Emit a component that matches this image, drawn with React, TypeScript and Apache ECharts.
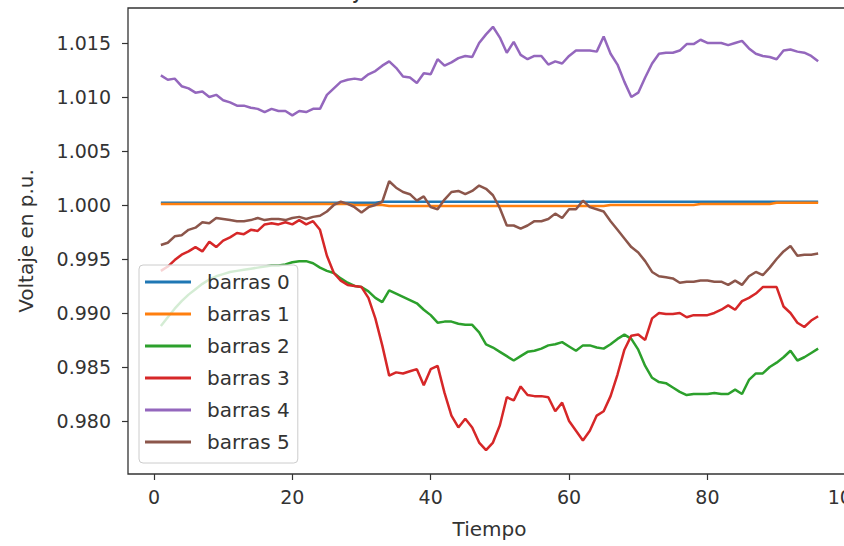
import React, { useEffect, useRef } from "react";
import * as echarts from "echarts";

const seriesNames = ["barras 0", "barras 1", "barras 2", "barras 3", "barras 4", "barras 5"];
const colors = ["#1f77b4", "#ff7f0e", "#2ca02c", "#d62728", "#9467bd", "#8c564b"];
const xTicks = [0, 20, 40, 60, 80, 100];
const yTicks = [0.98, 0.985, 0.99, 0.995, 1.0, 1.005, 1.01, 1.015];

const barras0 = [
  1.0002, 1.0002, 1.0002, 1.0002, 1.0002, 1.0002, 1.0002, 1.0002, 1.0002, 1.0002,
  1.0002, 1.0002, 1.0002, 1.0002, 1.0002, 1.0002, 1.0002, 1.0002, 1.0002, 1.0002,
  1.0002, 1.0002, 1.0002, 1.0002, 1.0002, 1.0002, 1.0002, 1.0002, 1.0002, 1.0002,
  1.0002, 1.0002, 1.0003, 1.0003, 1.0003, 1.0003, 1.0003, 1.0003, 1.0003, 1.0003,
  1.0003, 1.0003, 1.0003, 1.0003, 1.0003, 1.0003, 1.0003, 1.0003, 1.0003, 1.0003,
  1.0003, 1.0003, 1.0003, 1.0003, 1.0003, 1.0003, 1.0003, 1.0003, 1.0003, 1.0003,
  1.0003, 1.0003, 1.0003, 1.0003, 1.0003, 1.0003, 1.0003, 1.0003, 1.0003, 1.0003,
  1.0003, 1.0003, 1.0003, 1.0003, 1.0003, 1.0003, 1.0003, 1.0003, 1.0003, 1.0003,
  1.0003, 1.0003, 1.0003, 1.0003, 1.0003, 1.0003, 1.0003, 1.0003, 1.0003, 1.0003,
  1.0003, 1.0003, 1.0003, 1.0003, 1.0003, 1.0003,
];

const barras1 = [
  1.0001, 1.0001, 1.0001, 1.0001, 1.0001, 1.0001, 1.0001, 1.0001, 1.0001, 1.0001,
  1.0001, 1.0001, 1.0001, 1.0001, 1.0001, 1.0001, 1.0001, 1.0001, 1.0001, 1.0001,
  1.0001, 1.0001, 1.0001, 1.0001, 1.0001, 1.0001, 1.0001, 1.0001, 1.0000, 1.0000,
  1.0000, 1.0000, 1.0000, 0.9999, 0.9999, 0.9999, 0.9999, 0.9999, 0.9999, 0.9999,
  0.9999, 0.9999, 0.9999, 0.9999, 0.9999, 0.9999, 0.9999, 0.9999, 0.9999, 0.9999,
  0.9999, 0.9999, 0.9999, 0.9999, 0.9999, 0.9999, 0.9999, 0.9999, 0.9999, 0.9999,
  0.9999, 0.9999, 0.9999, 0.9999, 0.9999, 1.0000, 1.0000, 1.0000, 1.0000, 1.0000,
  1.0000, 1.0000, 1.0000, 1.0000, 1.0000, 1.0000, 1.0000, 1.0000, 1.0001, 1.0001,
  1.0001, 1.0001, 1.0001, 1.0001, 1.0001, 1.0001, 1.0001, 1.0001, 1.0001, 1.0002,
  1.0002, 1.0002, 1.0002, 1.0002, 1.0002, 1.0002,
];

const barras2 = [
  0.9888, 0.9896, 0.9904, 0.9911, 0.9917, 0.9922, 0.9927, 0.9931, 0.9934, 0.9936,
  0.9938, 0.9939, 0.994, 0.9941, 0.9942, 0.9943, 0.9944, 0.9944, 0.9945, 0.9947,
  0.9948, 0.9948, 0.9946, 0.9942, 0.9939, 0.9937, 0.9932, 0.9928, 0.9925, 0.9924,
  0.992, 0.9914, 0.991, 0.9921, 0.9918, 0.9915, 0.9912, 0.9909, 0.9903, 0.9898,
  0.9891, 0.9892, 0.9892, 0.989, 0.9889, 0.9889, 0.9882, 0.9871, 0.9868, 0.9864,
  0.986, 0.9856, 0.986, 0.9864, 0.9865, 0.9867, 0.987, 0.9871, 0.9873, 0.9869,
  0.9865, 0.987, 0.987, 0.9868, 0.9867, 0.9871, 0.9876, 0.988, 0.9876, 0.9866,
  0.9851, 0.984, 0.9836, 0.9835, 0.9831, 0.9827, 0.9824, 0.9825, 0.9825, 0.9825,
  0.9826, 0.9825, 0.9825, 0.9829, 0.9825, 0.9838, 0.9844, 0.9844, 0.985, 0.9854,
  0.9859, 0.9865, 0.9856, 0.9859, 0.9863, 0.9867,
];

const barras3 = [
  0.9939, 0.9943, 0.9949, 0.9954, 0.9957, 0.9961, 0.9957, 0.9966, 0.9961, 0.9967,
  0.997, 0.9974, 0.9973, 0.9977, 0.9976, 0.9982, 0.9983, 0.9982, 0.9984, 0.9982,
  0.9986, 0.9982, 0.9985, 0.9977, 0.9953, 0.9937, 0.993, 0.9926, 0.9925, 0.9924,
  0.9914, 0.9895, 0.987, 0.9842, 0.9845, 0.9844, 0.9846, 0.9848, 0.9833, 0.9848,
  0.9851, 0.9826, 0.9805, 0.9794, 0.9802, 0.9794, 0.978, 0.9773, 0.978, 0.9796,
  0.9822, 0.9819, 0.9832, 0.9824, 0.9823, 0.9823, 0.9822, 0.9809, 0.9817, 0.98,
  0.9791, 0.9782, 0.9791, 0.9805, 0.9809, 0.9823, 0.9843, 0.9866, 0.9879, 0.988,
  0.9875, 0.9895, 0.99, 0.9899, 0.9899, 0.99, 0.9896, 0.9898, 0.9898, 0.9898,
  0.99, 0.9903, 0.9907, 0.9903, 0.9911, 0.9914, 0.9918, 0.9924, 0.9924, 0.9924,
  0.9906, 0.99, 0.9891, 0.9887, 0.9893, 0.9897,
];

const barras4 = [
  1.012, 1.0116, 1.0117, 1.011, 1.0108, 1.0104, 1.0105, 1.01, 1.0102, 1.0097,
  1.0095, 1.0092, 1.0092, 1.009, 1.0089, 1.0086, 1.0089, 1.0087, 1.0087, 1.0083,
  1.0087, 1.0086, 1.0089, 1.0089, 1.0102, 1.0108, 1.0114, 1.0116, 1.0117, 1.0116,
  1.0121, 1.0124, 1.0129, 1.0133, 1.0127, 1.0119, 1.0118, 1.0113, 1.0122, 1.0121,
  1.0135, 1.0129, 1.0132, 1.0136, 1.0138, 1.0137, 1.015, 1.0158, 1.0165, 1.0155,
  1.0141, 1.0151, 1.0139, 1.0135, 1.0138, 1.0138, 1.013, 1.0133, 1.0131, 1.0138,
  1.0143, 1.0143, 1.0143, 1.0142, 1.0156, 1.014, 1.013, 1.0114, 1.01, 1.0104,
  1.0118, 1.0131, 1.014, 1.0141, 1.0141, 1.0143, 1.0149, 1.0149, 1.0153, 1.015,
  1.015, 1.015, 1.0148, 1.015, 1.0152, 1.0145, 1.014, 1.0138, 1.0137, 1.0135,
  1.0143, 1.0144, 1.0142, 1.0141, 1.0138, 1.0133,
];

const barras5 = [
  0.9963, 0.9965, 0.9971, 0.9972, 0.9977, 0.9979, 0.9984, 0.9983, 0.9988, 0.9987,
  0.9986, 0.9985, 0.9985, 0.9986, 0.9988, 0.9986, 0.9987, 0.9987, 0.9986, 0.9988,
  0.9989, 0.9987, 0.9989, 0.999, 0.9994, 1.0, 1.0003, 1.0001, 0.9998, 0.9993,
  0.9998, 1.0, 1.0003, 1.0022, 1.0016, 1.0012, 1.001, 1.0004, 1.0008, 0.9998,
  0.9996, 1.0005, 1.0012, 1.0013, 1.001, 1.0013, 1.0018, 1.0015, 1.0009, 0.9997,
  0.9981, 0.9981, 0.9978, 0.9981, 0.9985, 0.9985, 0.9987, 0.9992, 0.9988, 0.9996,
  0.9996, 1.0004, 0.9998, 0.9996, 0.9994, 0.9985, 0.9977, 0.9969, 0.9961, 0.9956,
  0.9948, 0.9938, 0.9934, 0.9933, 0.9932, 0.9928, 0.9929, 0.9929, 0.993, 0.993,
  0.9929, 0.9929, 0.9926, 0.993, 0.9926, 0.9934, 0.9938, 0.9935, 0.9942, 0.995,
  0.9957, 0.9962, 0.9953, 0.9954, 0.9954, 0.9955,
];

const allSeries = [barras0, barras1, barras2, barras3, barras4, barras5];

const FONT = "DejaVu Sans";

export default function App() {
  const ref = useRef<HTMLDivElement>(null);

  useEffect(() => {
    if (!ref.current) return;
    const chart = echarts.init(ref.current, null, { renderer: "svg" });
    chart.setOption({
      animation: false,
      backgroundColor: "#ffffff",
      textStyle: { fontFamily: FONT },
      graphic: [
        {
          type: "text",
          x: 489,
          y: 2,
          style: {
            text: "Voltaje en las barras del sistema",
            font: `24px "${FONT}"`,
            fill: "#333333",
            textAlign: "center",
            textVerticalAlign: "bottom",
          },
          silent: true,
        },
      ],
      grid: {
        left: 128,
        top: 8,
        bottom: 72,
        right: -7,
        outerBoundsMode: "none",
        containLabel: false,
        show: true,
        borderColor: "#333333",
        borderWidth: 1.3,
        backgroundColor: "transparent",
      },
      legend: {
        data: seriesNames,
        orient: "vertical",
        left: 139,
        top: 265,
        icon: "rect",
        itemWidth: 46,
        itemHeight: 3,
        itemGap: 12,
        padding: [7, 8, 11, 6],
        backgroundColor: "rgba(255,255,255,0.8)",
        borderColor: "#cccccc",
        borderWidth: 1,
        borderRadius: 4,
        textStyle: {
          fontFamily: FONT,
          fontSize: 20,
          lineHeight: 20,
          color: "#333333",
          padding: [0, 0, 0, 11],
        },
        selectedMode: false,
      },
      xAxis: {
        type: "value",
        min: -3.75,
        max: 100.75,
        name: "Tiempo",
        nameLocation: "middle",
        nameGap: 45,
        nameTextStyle: { fontFamily: FONT, fontSize: 20, color: "#333333" },
        axisLine: { show: false, onZero: false },
        axisTick: {
          show: true,
          length: 6,
          lineStyle: { color: "#333333", width: 1.2 },
          customValues: xTicks,
        },
        axisLabel: {
          fontFamily: FONT,
          fontSize: 19,
          color: "#333333",
          margin: 13,
          customValues: xTicks,
          formatter: (v: number) => String(v),
        },
        splitLine: { show: false },
      },
      yAxis: {
        type: "value",
        min: 0.97509,
        max: 1.01824,
        name: "Voltaje en p.u.",
        nameLocation: "middle",
        nameGap: 92,
        nameTextStyle: { fontFamily: FONT, fontSize: 20, color: "#333333" },
        axisLine: { show: false, onZero: false },
        axisTick: {
          show: true,
          length: 6,
          lineStyle: { color: "#333333", width: 1.2 },
          customValues: yTicks,
        },
        axisLabel: {
          fontFamily: FONT,
          fontSize: 19,
          color: "#333333",
          margin: 17,
          customValues: yTicks,
          formatter: (v: number) => v.toFixed(3),
        },
        splitLine: { show: false },
      },
      series: allSeries.map((vals, i) => ({
        name: seriesNames[i],
        type: "line",
        data: vals.map((v, k) => [k + 1, v]),
        showSymbol: false,
        symbol: "none",
        lineStyle: { color: colors[i], width: 2.5 },
        itemStyle: { color: colors[i] },
        emphasis: { disabled: true },
        silent: true,
      })),
    });
    return () => chart.dispose();
  }, []);

  return (
    <div
      ref={ref}
      style={{ position: "fixed", left: 0, top: 0, width: 844, height: 546 }}
    />
  );
}
